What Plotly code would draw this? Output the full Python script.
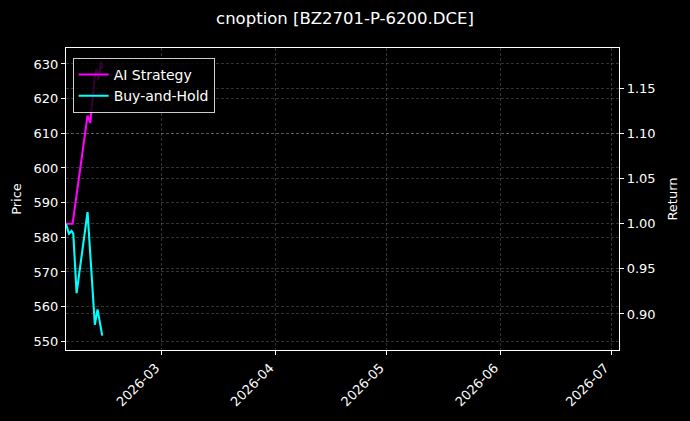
import plotly.graph_objects as go

title = "cnoption [BZ2701-P-6200.DCE]"

bh_dates = ["2026-02-03 00:00", "2026-02-03 19:00", "2026-02-04 12:30",
            "2026-02-04 23:30", "2026-02-05 21:00", "2026-02-08 20:24",
            "2026-02-10 20:00", "2026-02-11 13:30", "2026-02-12 20:10"]
bh_return = [1.000, 0.989, 0.992, 0.989, 0.923, 1.013, 0.888, 0.905, 0.876]

ai_dates = ["2026-02-03 00:00", "2026-02-04 19:00", "2026-02-08 20:24",
            "2026-02-09 14:00", "2026-02-10 20:00", "2026-02-11 07:00",
            "2026-02-11 20:00", "2026-02-12 12:15", "2026-02-12 20:10"]
ai_return = [1.000, 1.000, 1.120, 1.112, 1.163, 1.172, 1.160, 1.180, 1.172]

x_range = ["2026-02-03 00:00", "2026-07-03 04:00"]
price_range = [547.5, 634.6]
return_range = [0.860, 1.195]

font = "DejaVu Sans"
grid = dict(showgrid=True, gridcolor="rgba(255,255,255,0.2)", griddash="3px,2px", gridwidth=1)
frame = dict(showline=True, linecolor="white", linewidth=1.2, mirror=True,
             ticks="outside", ticklen=4, tickcolor="white", tickwidth=1,
             tickfont=dict(size=13, color="white", family=font), zeroline=False)

fig = go.Figure()
# price axis has no visible line in the reference, empty trace just keeps the axis
fig.add_trace(go.Scatter(x=[], y=[], mode="lines", showlegend=False, yaxis="y"))
fig.add_trace(go.Scatter(x=ai_dates, y=ai_return, name="AI Strategy", mode="lines",
                         line=dict(color="#ff00ff", width=2.1), yaxis="y2"))
fig.add_trace(go.Scatter(x=bh_dates, y=bh_return, name="Buy-and-Hold", mode="lines",
                         line=dict(color="#00ffff", width=2.1), yaxis="y2"))

fig.update_layout(
    width=690, height=421, autosize=False,
    margin=dict(l=66, r=70, t=48, b=69),
    paper_bgcolor="black", plot_bgcolor="black",
    font=dict(family=font, color="white", size=13),
    title=dict(text=title, x=0.5, xref="container", y=1 - 18 / 421, yref="container",
               xanchor="center", yanchor="middle",
               font=dict(size=16.5, color="white", family=font)),
    xaxis=dict(range=x_range, type="date", tickformat="%Y-%m", dtick="M1",
               tick0="2026-03-01", tickangle=-45, ticklabelshift=-6, **grid, **frame),
    yaxis=dict(range=price_range, dtick=10, title=dict(text="Price", standoff=8,
               font=dict(size=13, color="white")), **grid, **frame),
    yaxis2=dict(range=return_range, dtick=0.05, tickformat=".2f", overlaying="y",
                side="right", title=dict(text="Return", standoff=13,
                font=dict(size=13, color="white")), **grid, **frame),
    legend=dict(x=0.012, y=0.967, xanchor="left", yanchor="top",
                bgcolor="rgba(0,0,0,0.8)", bordercolor="rgba(255,255,255,0.8)",
                borderwidth=1, font=dict(size=14, color="white", family=font),
                tracegroupgap=0),
    showlegend=True,
)

fig.write_html("out.html", config={"displayModeBar": False},
               post_script="document.body.style.margin='0';")
